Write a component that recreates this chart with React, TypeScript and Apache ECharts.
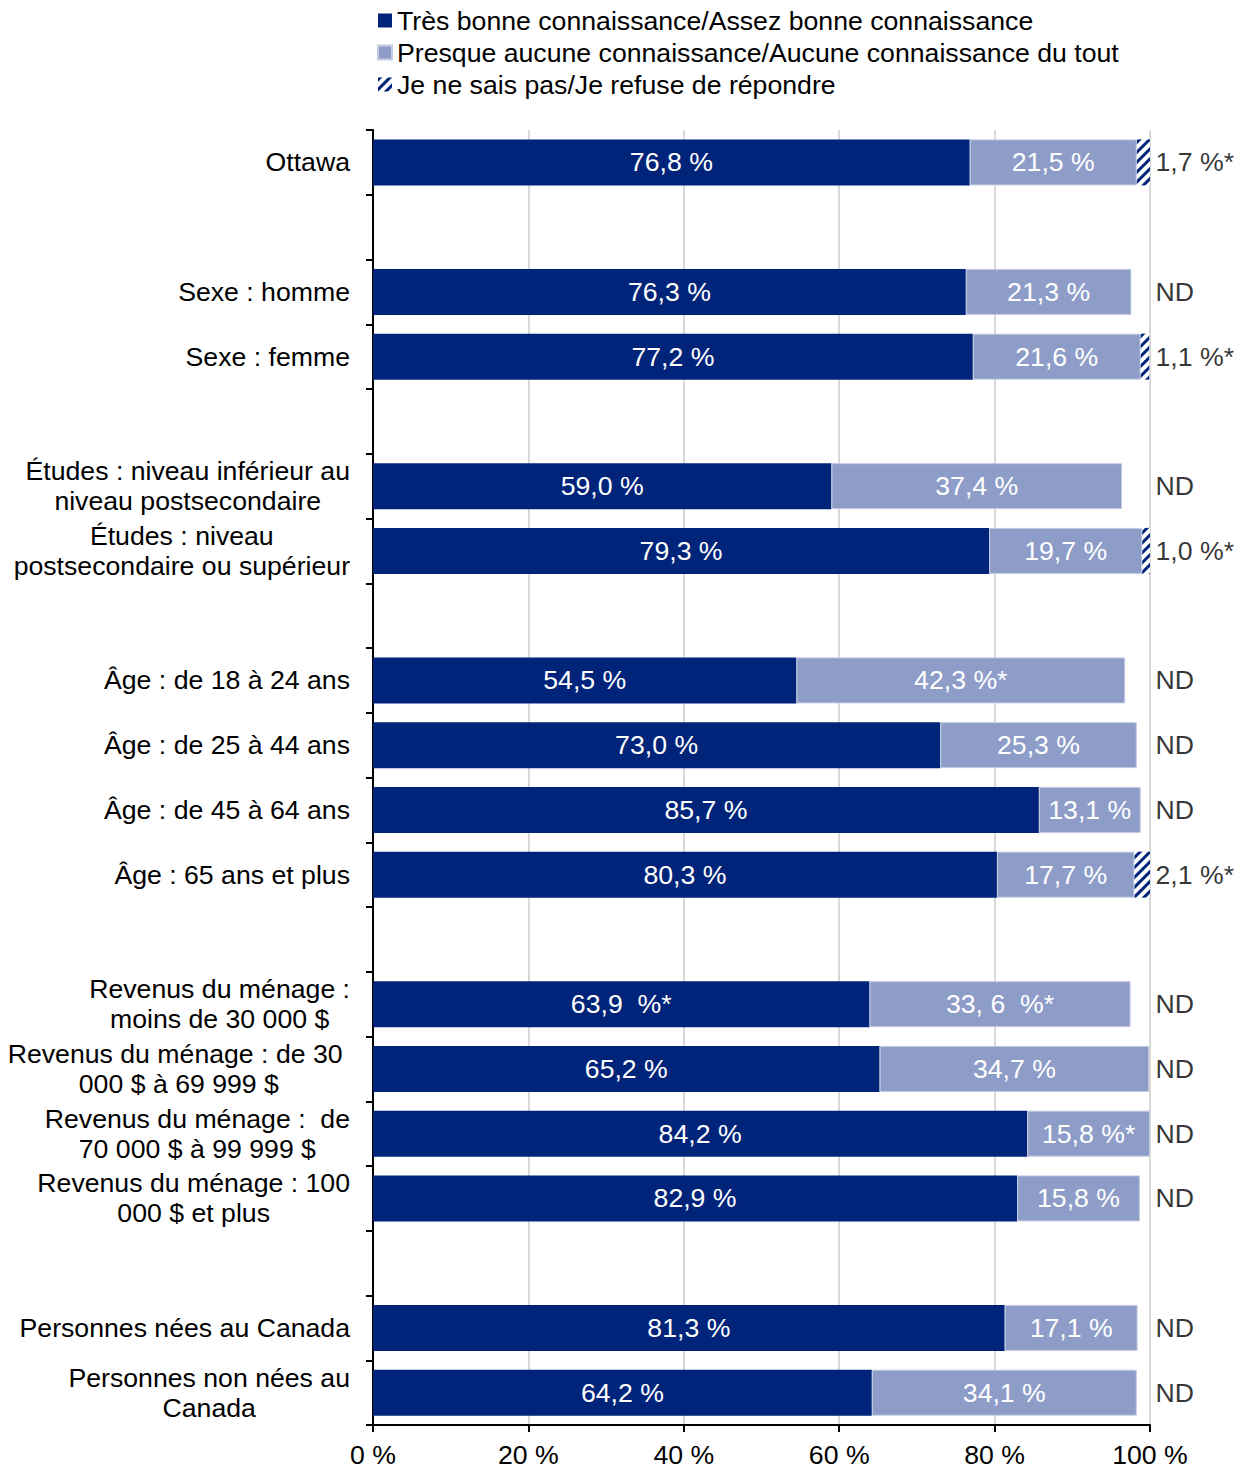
import React, { useEffect, useRef } from "react";
import * as echarts from "echarts";

const FONT = "'Liberation Sans', Arial, sans-serif";
const FS = 26.67;
const NAVY = "#00247A";
const LIGHT = "#8E9DC8";

const seriesNames = [
  "Très bonne connaissance/Assez bonne connaissance",
  "Presque aucune connaissance/Aucune connaissance du tout",
  "Je ne sais pas/Je refuse de répondre",
];

const categories = [
  "Ottawa",
  "",
  "Sexe : homme",
  "Sexe : femme",
  "",
  "Études : niveau inférieur au\nniveau postsecondaire",
  "Études : niveau\npostsecondaire ou supérieur",
  "",
  "Âge : de 18 à 24 ans",
  "Âge : de 25 à 44 ans",
  "Âge : de 45 à 64 ans",
  "Âge : 65 ans et plus",
  "",
  "Revenus du ménage :\nmoins de 30 000 $",
  "Revenus du ménage : de 30 \n000 $ à 69 999 $",
  "Revenus du ménage :  de\n70 000 $ à 99 999 $",
  "Revenus du ménage : 100\n000 $ et plus",
  "",
  "Personnes nées au Canada",
  "Personnes non nées au\nCanada",
];

const knowledge = [76.8, null, 76.3, 77.2, null, 59.0, 79.3, null, 54.5, 73.0, 85.7, 80.3, null, 63.9, 65.2, 84.2, 82.9, null, 81.3, 64.2];
const noKnowledge = [21.5, null, 21.3, 21.6, null, 37.4, 19.7, null, 42.3, 25.3, 13.1, 17.7, null, 33.6, 34.7, 15.8, 15.8, null, 17.1, 34.1];
const dontKnow = [1.7, null, null, 1.1, null, null, 1.0, null, null, null, null, 2.1, null, null, null, null, null, null, null, null];

const knowledgeLabels = ["76,8 %", "", "76,3 %", "77,2 %", "", "59,0 %", "79,3 %", "", "54,5 %", "73,0 %", "85,7 %", "80,3 %", "", "63,9  %*", "65,2 %", "84,2 %", "82,9 %", "", "81,3 %", "64,2 %"];
const noKnowledgeLabels = ["21,5 %", "", "21,3 %", "21,6 %", "", "37,4 %", "19,7 %", "", "42,3 %*", "25,3 %", "13,1 %", "17,7 %", "", "33, 6  %*", "34,7 %", "15,8 %*", "15,8 %", "", "17,1 %", "34,1 %"];
const sideLabels = ["1,7 %*", "", "ND", "1,1 %*", "", "ND", "1,0 %*", "", "ND", "ND", "ND", "2,1 %*", "", "ND", "ND", "ND", "ND", "", "ND", "ND"];

const xTicks = [0, 20, 40, 60, 80, 100];

export default function App() {
  const ref = useRef<HTMLDivElement>(null);

  useEffect(() => {
    if (!ref.current) return;
    const chart = echarts.init(ref.current, null, { renderer: "svg" });

    const barLabel = (labels: string[]) => ({
      show: true,
      position: "inside",
      color: "#ffffff",
      fontSize: FS,
      fontFamily: FONT,
      formatter: (p: any) => labels[p.dataIndex] || "",
    });

    chart.setOption({
      animation: false,
      backgroundColor: "#ffffff",
      textStyle: { fontFamily: FONT },
      legend: {
        orient: "vertical",
        left: 372,
        top: 2,
        itemWidth: 14,
        itemHeight: 14,
        itemGap: 5,
        icon: "rect",
        data: seriesNames,
        textStyle: { fontSize: FS, fontFamily: FONT, color: "#000", lineHeight: 27 },
      },
      grid: { left: 373, right: 94, top: 130, bottom: 44, containLabel: false },
      xAxis: {
        type: "value",
        min: 0,
        max: 100,
        interval: 20,
        axisLine: { show: true, lineStyle: { color: "#000", width: 2 } },
        axisTick: { show: true, length: 7, lineStyle: { color: "#000", width: 2 } },
        splitLine: { show: true, lineStyle: { color: "#D9D9D9", width: 2 } },
        axisLabel: {
          fontSize: FS,
          fontFamily: FONT,
          color: "#000",
          margin: 16,
          formatter: (v: number) => (xTicks.includes(v) ? `${v} %` : ""),
        },
      },
      yAxis: {
        type: "category",
        inverse: true,
        data: categories.map((_, i) => `c${i}`),
        axisLine: { show: true, lineStyle: { color: "#000", width: 2 } },
        axisTick: { show: true, length: 7, lineStyle: { color: "#000", width: 2 } },
        splitLine: { show: false },
        axisLabel: {
          margin: 23,
          fontSize: FS,
          lineHeight: 30,
          color: "#000",
          fontFamily: FONT,
          formatter: (_v: string, i: number) => {
            const s = categories[i];
            if (!s) return "";
            return s
              .split("\n")
              .map((l) => `{c|${l}}`)
              .join("\n");
          },
          rich: {
            c: { align: "center", fontSize: FS, lineHeight: 30, color: "#000", fontFamily: FONT },
          },
        },
      },
      series: [
        {
          name: seriesNames[0],
          type: "bar",
          stack: "t",
          barWidth: 46,
          data: knowledge,
          itemStyle: { color: NAVY },
          label: barLabel(knowledgeLabels),
        },
        {
          name: seriesNames[1],
          type: "bar",
          stack: "t",
          barWidth: 46,
          data: noKnowledge,
          itemStyle: { color: LIGHT, borderColor: "#C3CBE4", borderWidth: 1 },
          label: barLabel(noKnowledgeLabels),
        },
        {
          name: seriesNames[2],
          type: "bar",
          stack: "t",
          barWidth: 46,
          data: dontKnow,
          itemStyle: {
            color: "#ffffff",
            decal: {
              symbol: "rect",
              color: NAVY,
              backgroundColor: "#ffffff",
              dashArrayX: [1, 0],
              dashArrayY: [3, 4],
              symbolSize: 1,
              rotation: -Math.PI / 4,
            },
          },
        },
        {
          type: "scatter",
          data: categories.map((_, i) => [100, i]),
          symbolSize: 1,
          itemStyle: { color: "rgba(0,0,0,0)" },
          silent: true,
          label: {
            show: true,
            position: "right",
            distance: 5,
            fontSize: FS,
            fontFamily: FONT,
            color: "#000",
            formatter: (p: any) => sideLabels[p.dataIndex] || "",
          },
        },
      ],
    });

    return () => chart.dispose();
  }, []);

  return (
    <div
      ref={ref}
      style={{ position: "absolute", left: 0, top: 0, width: 1244, height: 1469 }}
    />
  );
}
